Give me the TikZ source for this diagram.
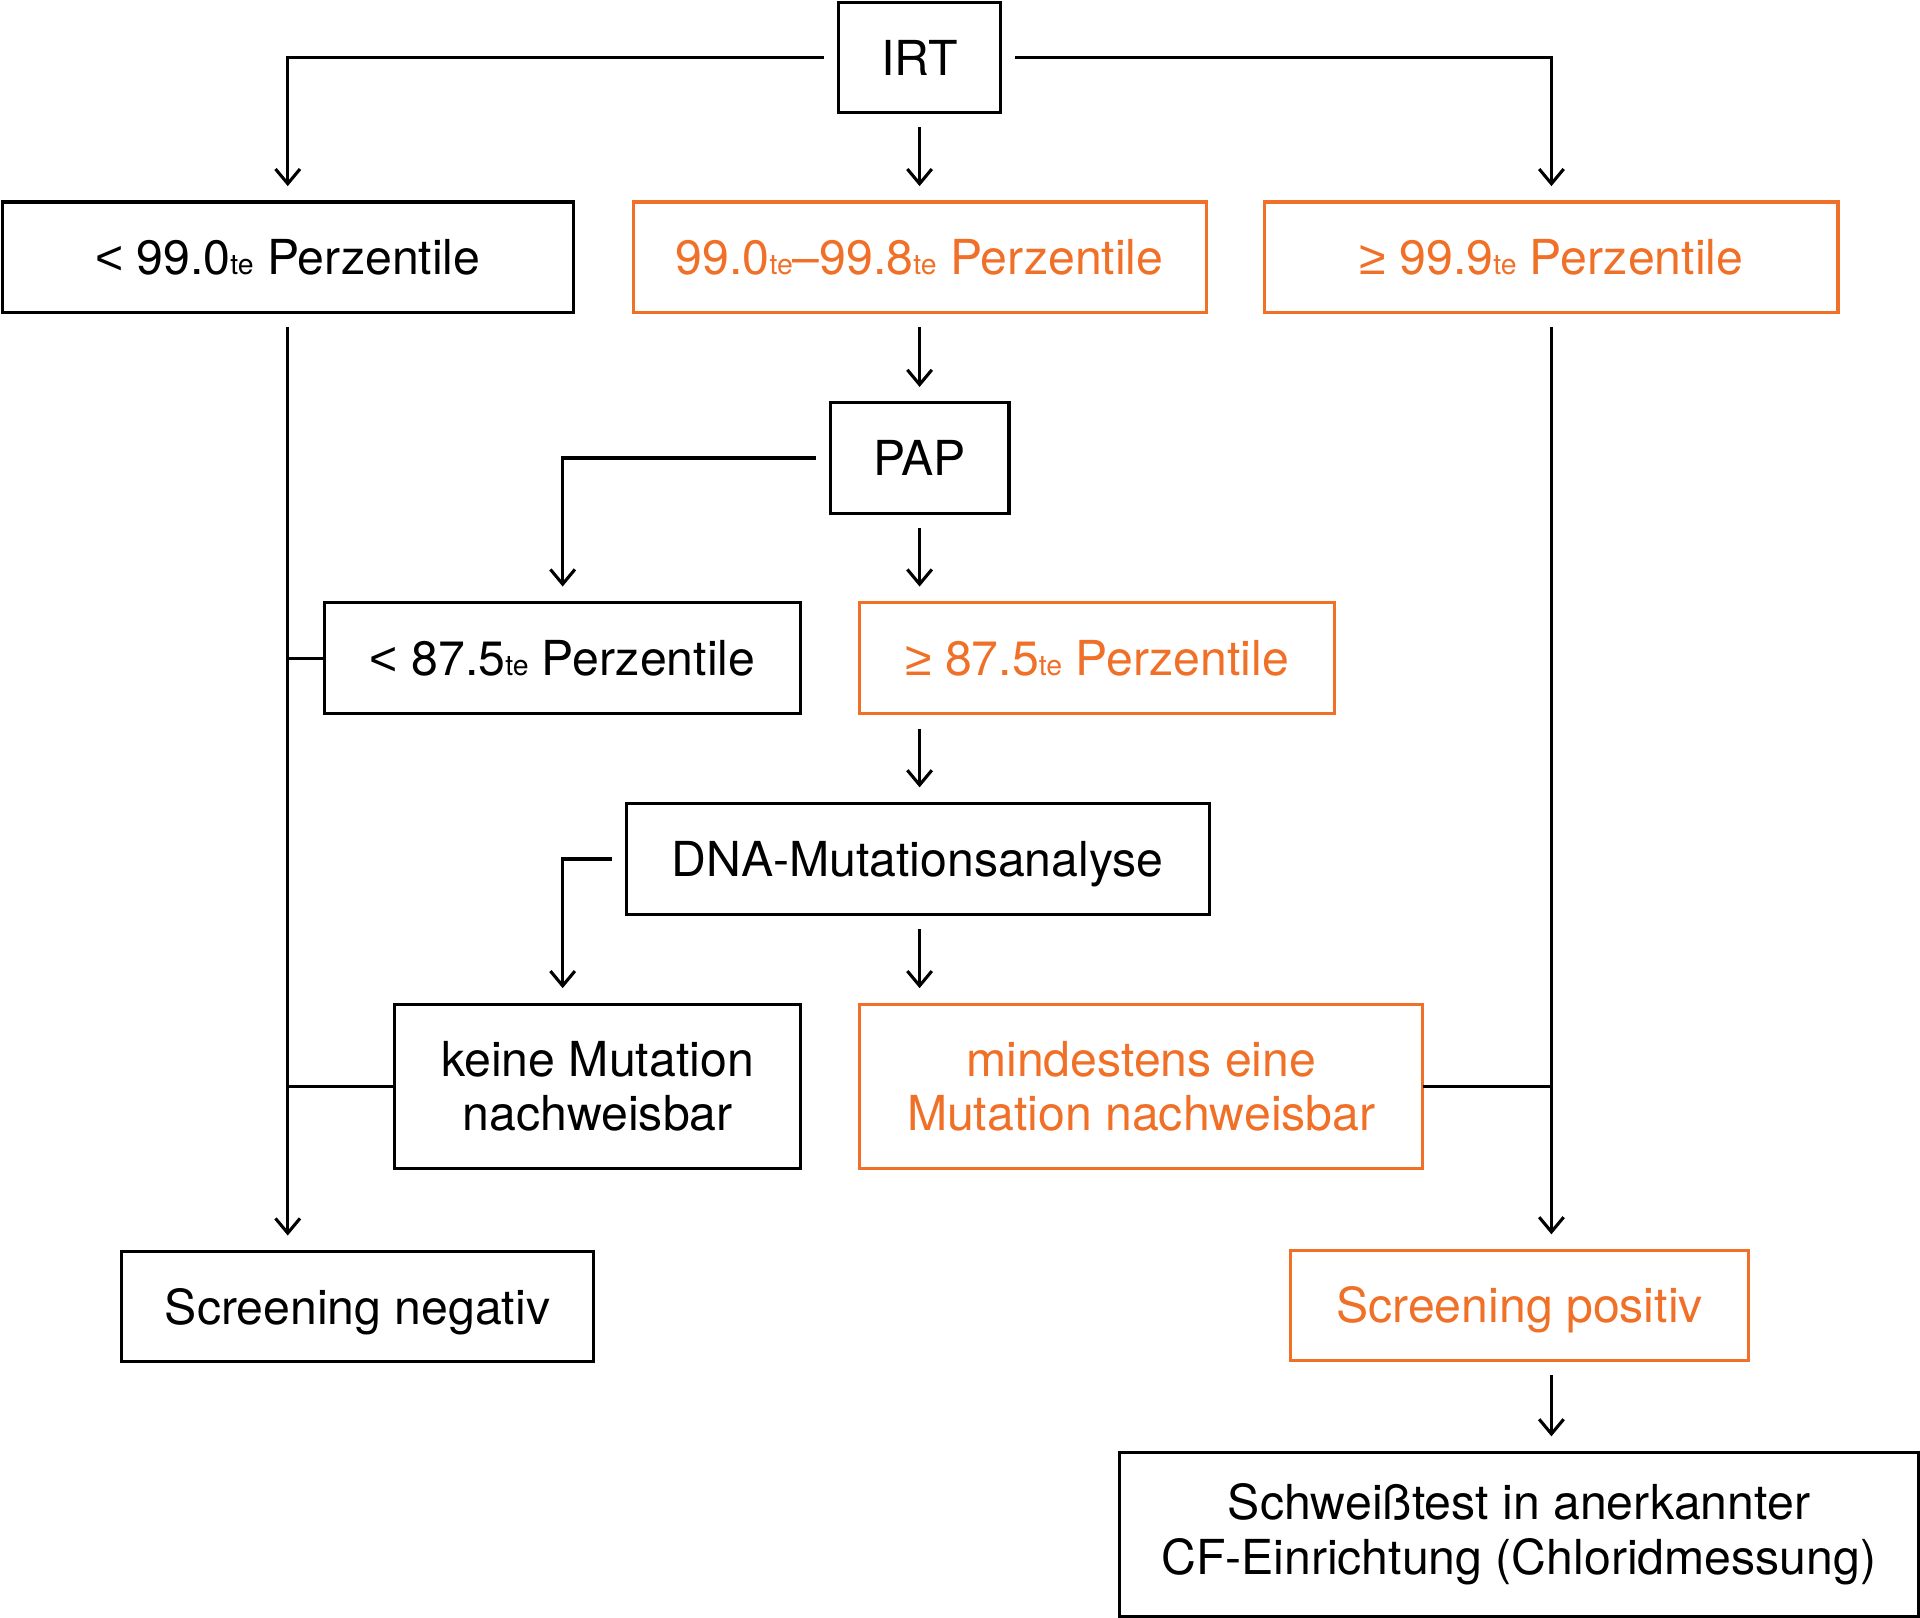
\documentclass[tikz,border=0pt]{standalone}
\usepackage{fontspec}
\setmainfont{TeX Gyre Heros}
\newfontfamily\symf{Liberation Sans}
\usetikzlibrary{arrows.meta}
\definecolor{cforange}{RGB}{240,112,40}
\newcommand{\tesub}{{\fontsize{16.5}{16.5}\selectfont te}}
\newcommand{\gesym}{{\symf ≥}}
\newcommand{\ltsym}{{\symf <}}
\def\u{0.025cm}
\begin{document}
\begin{tikzpicture}[x=0.025cm, y=-0.025cm,
  box/.style={draw, line width=1.8pt, inner sep=0pt, outer sep=0pt, align=center,
    font=\fontsize{28}{31.5}\selectfont},
  obox/.style={box, draw=cforange, text=cforange},
  one/.style={text height=20.5pt, text depth=0pt},
  conn/.style={line width=1.8pt},
  arr/.style={conn, -{Straight Barb[length=0.3cm, width=0.5cm]}},
  gap/.style={shorten <=0.3cm, shorten >=0.325cm}]
\useasboundingbox (0,0) rectangle (1568,1320.6);
% nodes
\node[box, one, minimum width=132*\u, minimum height=90*\u] (irt) at (751,47) {IRT};
\node[box, one, minimum width=466*\u, minimum height=90*\u] (lt99) at (235,210) {\ltsym{} 99.0\tesub{} Perzentile};
\node[obox, one, minimum width=468*\u, minimum height=90*\u] (mid) at (751,210) {99.0\tesub–99.8\tesub{} Perzentile};
\node[obox, one, minimum width=468*\u, minimum height=90*\u] (ge99) at (1267,210) {\gesym{} 99.9\tesub{} Perzentile};
\node[box, one, minimum width=146*\u, minimum height=90*\u] (pap) at (751,374) {PAP};
\node[box, one, minimum width=389*\u, minimum height=91*\u] (lt87) at (459.5,537.5) {\ltsym{} 87.5\tesub{} Perzentile};
\node[obox, one, minimum width=388*\u, minimum height=91*\u] (ge87) at (896,537.5) {\gesym{} 87.5\tesub{} Perzentile};
\node[box, one, minimum width=476*\u, minimum height=91*\u] (dna) at (749.5,701.5) {DNA-Mutationsanalyse};
\node[box, minimum width=332*\u, minimum height=134*\u] (keine) at (488,887) {keine Mutation\\nachweisbar};
\node[obox, minimum width=460*\u, minimum height=134*\u] (mind) at (932,887) {mindestens eine\\Mutation nachweisbar};
\node[box, one, minimum width=386*\u, minimum height=90*\u] (neg) at (292,1067) {Screening negativ};
\node[obox, one, minimum width=374*\u, minimum height=90*\u] (pos) at (1241,1066) {Screening positiv};
\node[box, minimum width=652*\u, minimum height=134*\u] (sch) at (1240.5,1253) {Schweißtest in anerkannter\\CF-Einrichtung (Chloridmessung)};
% connectors
\draw[arr, gap] (irt.west) -| (lt99.north);
\draw[arr, gap] (irt.east) -| (ge99.north);
\draw[arr, gap] (irt.south) -- (mid.north);
\draw[arr, gap] (mid.south) -- (pap.north);
\draw[arr, gap] (pap.west) -| (lt87.north);
\draw[arr, gap] (pap.south) -- (ge87.north -| pap.south);
\draw[arr, gap] (ge87.south -| pap.south) -- (dna.north -| pap.south);
\draw[arr, gap] (dna.west) -| (keine.north -| lt87.south);
\draw[arr, gap] (dna.south -| pap.south) -- (mind.north -| pap.south);
\draw[arr, gap] (lt99.south) -- (neg.north -| lt99.south);
\draw[conn] (lt87.west) -- (lt87.west -| lt99.south);
\draw[conn] (keine.west) -- (keine.west -| lt99.south);
\draw[arr, gap] (ge99.south) -- (pos.north -| ge99.south);
\draw[conn] (mind.east) -- (mind.east -| ge99.south);
\draw[arr, gap] (pos.south -| ge99.south) -- (sch.north -| ge99.south);
\end{tikzpicture}
\end{document}
